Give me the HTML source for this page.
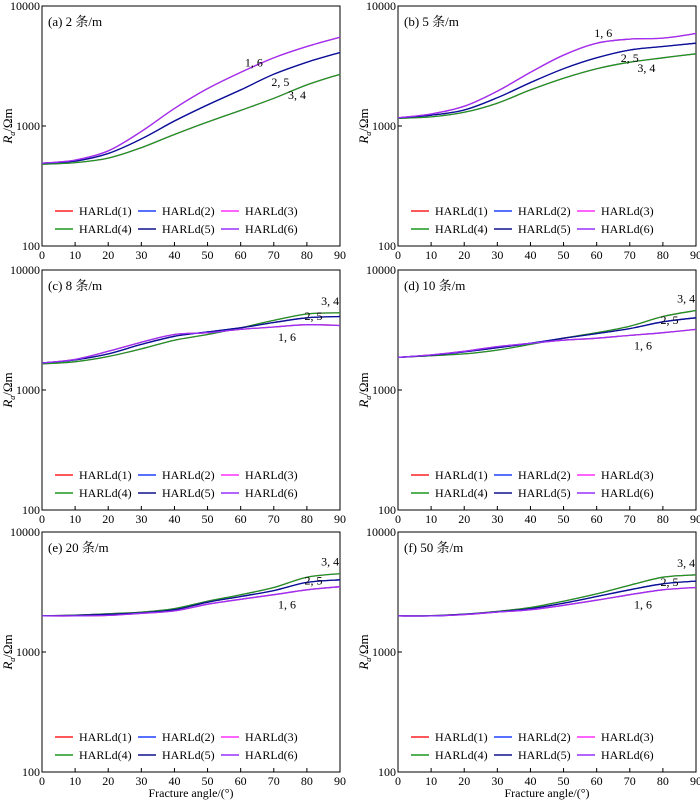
<!DOCTYPE html>
<html><head><meta charset="utf-8"><style>
body{margin:0;background:#fff;}
svg{display:block;font-family:"Liberation Serif","Noto Serif CJK SC","Noto Sans CJK SC",serif;}
</style></head><body>
<svg id="chart" width="700" height="801" viewBox="0 0 700 801" xmlns="http://www.w3.org/2000/svg"></svg>
<script>
const angles=[0,10,20,30,40,50,60,70,80,90];
const panelTitles=["(a) 2 条/m","(b) 5 条/m","(c) 8 条/m","(d) 10 条/m","(e) 20 条/m","(f) 50 条/m"];
const a16=[490,520,620,900,1400,2050,2800,3700,4600,5500];
const a25=[490,510,590,780,1100,1500,2000,2700,3400,4100];
const a34=[480,495,540,660,850,1080,1350,1700,2200,2700];
const b16=[1170,1260,1460,1950,2800,3900,4900,5300,5400,5900];
const b25=[1170,1230,1360,1720,2300,3000,3700,4300,4600,4900];
const b34=[1160,1190,1300,1550,2000,2500,3000,3400,3700,4000];
const c16=[1680,1800,2100,2500,2900,3000,3200,3350,3500,3450];
const c25=[1680,1780,2000,2400,2800,3050,3300,3650,4000,4100];
const c34=[1650,1720,1900,2200,2600,2900,3300,3800,4300,4400];
const d16=[1870,1960,2100,2300,2450,2600,2700,2850,3000,3200];
const d25=[1870,1950,2080,2250,2450,2700,2950,3250,3700,4000];
const d34=[1870,1930,2000,2150,2400,2700,3000,3400,4100,4600];
const e16=[2000,2000,2020,2100,2200,2500,2750,3000,3300,3500];
const e25=[2000,2020,2060,2120,2250,2600,2900,3250,3800,4000];
const e34=[2000,2030,2080,2150,2300,2650,3000,3450,4200,4500];
const f16=[2000,2000,2050,2150,2250,2450,2700,3000,3300,3450];
const f25=[2000,2000,2060,2160,2300,2550,2900,3300,3700,3900];
const f34=[2000,2010,2070,2180,2350,2650,3050,3600,4200,4400];
const groups=[[a16,a25,a34],[b16,b25,b34],[c16,c25,c34],[d16,d25,d34],[e16,e25,e34],[f16,f25,f34]];
const seriesNames=["HARLd(1)","HARLd(2)","HARLd(3)","HARLd(4)","HARLd(5)","HARLd(6)"];
const seriesColors=["#ff2020","#2040ff","#ff30ff","#1a991a","#10108f","#9a30ff"];
const seriesGroup=[0,1,2,2,1,0];
const groupLabels=["1, 6","2, 5","3, 4"];
const xTicks=[0,10,20,30,40,50,60,70,80,90];
const yTicks=[100,1000,10000];

const NS="http://www.w3.org/2000/svg";
const svg=document.getElementById('chart');
function mk(t,at,p){const e=document.createElementNS(NS,t);for(const k in at)e.setAttribute(k,at[k]);(p||svg).appendChild(e);return e;}
function smooth(P){let d='M'+P[0][0].toFixed(1)+','+P[0][1].toFixed(1);
  for(let i=0;i<P.length-1;i++){const p0=P[Math.max(0,i-1)],p1=P[i],p2=P[i+1],p3=P[Math.min(P.length-1,i+2)];
    const c1=[p1[0]+(p2[0]-p0[0])/6,p1[1]+(p2[1]-p0[1])/6],c2=[p2[0]-(p3[0]-p1[0])/6,p2[1]-(p3[1]-p1[1])/6];
    d+=` C${c1[0].toFixed(1)},${c1[1].toFixed(1)} ${c2[0].toFixed(1)},${c2[1].toFixed(1)} ${p2[0].toFixed(1)},${p2[1].toFixed(1)}`;}
  return d;}
const lefts=[42,398],tops=[6,270,532],W=298,H=240;
for(let p=0;p<6;p++){
  const L=lefts[p%2],T=tops[Math.floor(p/2)],B=T+H;
  const xs=v=>L+v/90*W;
  const ys=v=>B-120*Math.log10(v/100);
  const g=mk('g',{});
  
  
  const fr=mk('rect',{x:L,y:T,width:W,height:H,fill:'none',stroke:'#000','stroke-width':1},g);
  
  
  xTicks.forEach(t=>{
    mk('line',{x1:xs(t),x2:xs(t),y1:B,y2:B-4,stroke:'#000'},g);
    const tx=mk('text',{x:xs(t),y:B+13,'font-size':12,'text-anchor':'middle'},g);tx.textContent=t;
    
    
  });
  yTicks.forEach(t=>{
    mk('line',{x1:L,x2:L+4,y1:ys(t),y2:ys(t),stroke:'#000'},g);
    const tx=mk('text',{x:L-2,y:ys(t)+4,'font-size':12,'text-anchor':'end'},g);tx.textContent=t;
    
    
  });
  const yl=mk('text',{transform:`translate(${L-30},${T+H/2}) rotate(-90)`,'font-size':13,'text-anchor':'middle'},g);
  yl.innerHTML='<tspan font-style="italic">R</tspan><tspan font-size="8" dy="3" font-style="italic">a</tspan><tspan dy="-3">/Ωm</tspan>';
  
  
  const ti=mk('text',{x:L+6,y:T+20,'font-size':13},g);ti.textContent=panelTitles[p];
  
  
  for(let s=0;s<6;s++){
    const d=groups[p][seriesGroup[s]];
    const P=angles.map((a,i)=>[xs(a),ys(d[i])]);
    const pl=mk('path',{d:smooth(P),fill:'none',stroke:seriesColors[s],'stroke-width':1.3,'stroke-linejoin':'round'},g);
    
    
  }
  for(let k=0;k<3;k++){
    const d=groups[p][k];
    const ang=(p===0?[64,72,77]:[62,70,75])[k]+(p>=2?12:0);
    const i=Math.min(9,Math.round(ang/10));
    const v=d[i];
    const dy=k===0?(p>=2?14:-6):(k===1?(p>=2?2:12):(p>=2?-8:14));
    const tx=mk('text',{x:xs(ang),y:ys(v)+dy,'font-size':12,'text-anchor':'middle'},g);
    tx.textContent=groupLabels[k];
    
    
  }
  for(let s=0;s<6;s++){
    const col=s%3,row=Math.floor(s/3);
    const ox=L+13+col*83,oy=B-35+row*18;
    const lg=mk('g',{},g);
    
    
    mk('line',{x1:ox,x2:ox+18,y1:oy,y2:oy,stroke:seriesColors[s],'stroke-width':1.5},lg);
    const tx=mk('text',{x:ox+24,y:oy+4,'font-size':12},lg);tx.textContent=seriesNames[s];
  }
  if(p>=4){
    const xt=mk('text',{x:L+W/2,y:B+25,'font-size':12,'text-anchor':'middle'},g);
    xt.textContent='Fracture angle/(°)';
    
    
  }
}
</script>
</body></html>
